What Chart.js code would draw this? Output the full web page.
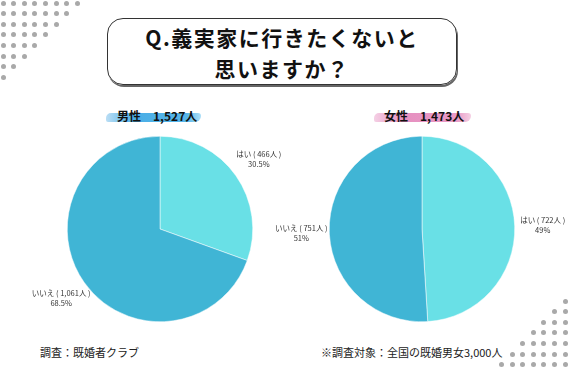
<!DOCTYPE html>
<html>
<head>
<meta charset="utf-8">
<script src="https://cdn.jsdelivr.net/npm/chart.js@4.4.1/dist/chart.umd.min.js"></script>
<style>
    html, body { margin: 0; padding: 0; background: #fff; }
    #page { position: relative; width: 568px; height: 370px; overflow: hidden; font-family: "Noto Sans CJK JP", sans-serif; }
    canvas { position: absolute; left: 0; top: 0; }
    .title {
        position: absolute; left: 107px; top: 18px; width: 350px; height: 67px;
        border: 1.5px solid #333; border-radius: 16px; box-shadow: 1px 2px 0 #666;
        text-align: center; font-size: 21px; line-height: 31px; letter-spacing: 1.5px;
        color: #111; font-weight: 600; padding-top: 3px; box-sizing: border-box;
    }
    .brush { position: absolute; height: 9px; border-radius: 5px 3px 6px 2px; }
    .head { position: absolute; font-size: 12px; font-weight: 700; color: #111; white-space: pre; }
    .note { position: absolute; font-size: 11px; color: #222; white-space: pre; }
    .dot { position: absolute; width: 5px; height: 5px; border-radius: 50%; background: #a9a9a9; }
</style>
</head>
<body>
<div id="page">
    <div class="title">Q.義実家に行きたくないと<br>思いますか？</div>
    <div class="brush" style="left:106px;top:113px;width:95px;background:linear-gradient(90deg,rgba(60,160,225,0.35),#4aaee6 30%,#56b6ea 85%,rgba(90,190,240,0.5));"></div>
    <div class="brush" style="left:374px;top:113px;width:97px;background:linear-gradient(90deg,rgba(225,120,180,0.35),#e690c0 30%,#e89ac6 85%,rgba(235,160,200,0.5));"></div>
    <div class="head" style="left:117px;top:107px;" id="maleHead"></div>
    <div class="head" style="left:384px;top:107px;" id="femaleHead"></div>
    <div class="note" style="left:40px;top:344px;">調査：既婚者クラブ</div>
    <div class="note" style="left:321px;top:344px;">※調査対象：全国の既婚男女3,000人</div>
    <canvas id="maleChart" width="568" height="370"></canvas>
    <canvas id="femaleChart" width="568" height="370"></canvas>
</div>
<script>
const answers = ['はい', 'いいえ'];
const maleCounts = [466, 1061];
const femaleCounts = [722, 751];
const malePct = ['30.5%', '68.5%'];
const femalePct = ['49%', '51%'];
const maleTotal = '1,527人';
const femaleTotal = '1,473人';
const sliceColors = ['#69e0e6', '#40b5d5'];

document.getElementById('maleHead').textContent = '男性　' + maleTotal;
document.getElementById('femaleHead').textContent = '女性　' + femaleTotal;

// decorative dot triangles in the corners
(function () {
    const page = document.getElementById('page');
    const step = 10.6;
    function dot(x, y) {
        const d = document.createElement('div');
        d.className = 'dot';
        d.style.left = (x - 2.5) + 'px';
        d.style.top = (y - 2.5) + 'px';
        page.appendChild(d);
    }
    for (let r = 0; r < 8; r++) {
        for (let c = 0; c < 8 - r; c++) dot(3 + c * step, 3 + r * step);
    }
    for (let r = 0; r < 7; r++) {
        for (let c = 0; c <= r; c++) dot(565 - c * step, 301 + r * step);
    }
}());

const outsideLabels = {
    id: 'outsideLabels',
    afterDatasetDraw(chart) {
        const ctx = chart.ctx;
        const meta = chart.getDatasetMeta(0);
        const pct = chart.options.plugins.outsideLabels.pct;
        const counts = chart.data.datasets[0].data;
        ctx.save();
        ctx.fillStyle = '#333';
        ctx.font = '7.5px "Noto Sans CJK JP", sans-serif';
        ctx.textAlign = 'center';
        ctx.textBaseline = 'middle';
        meta.data.forEach((arc, i) => {
            const mid = (arc.startAngle + arc.endAngle) / 2;
            const r = arc.outerRadius + 28;
            const x = arc.x + Math.cos(mid) * r;
            const y = arc.y + Math.sin(mid) * r;
            const n = counts[i].toLocaleString('en-US');
            ctx.fillText(chart.data.labels[i] + ' ( ' + n + '人 )', x, y - 5);
            ctx.fillText(pct[i], x, y + 5);
        });
        ctx.restore();
    }
};

function render(canvasId, values, pct, padding) {
    const ctx = document.getElementById(canvasId).getContext('2d');
    return new Chart(ctx, {
        type: 'pie',
        data: {
            labels: answers,
            datasets: [{
                data: values,
                backgroundColor: sliceColors,
                borderColor: '#ffffff',
                borderWidth: 0.5
            }]
        },
        options: {
            responsive: false,
            animation: false,
            layout: { padding },
            plugins: {
                legend: { display: false },
                tooltip: { enabled: false },
                outsideLabels: { pct }
            }
        },
        plugins: [outsideLabels]
    });
}

render('maleChart', maleCounts, malePct, { left: 67, right: 315, top: 136, bottom: 48 });
render('femaleChart', femaleCounts, femalePct, { left: 329, right: 53, top: 136, bottom: 48 });
</script>
</body>
</html>
